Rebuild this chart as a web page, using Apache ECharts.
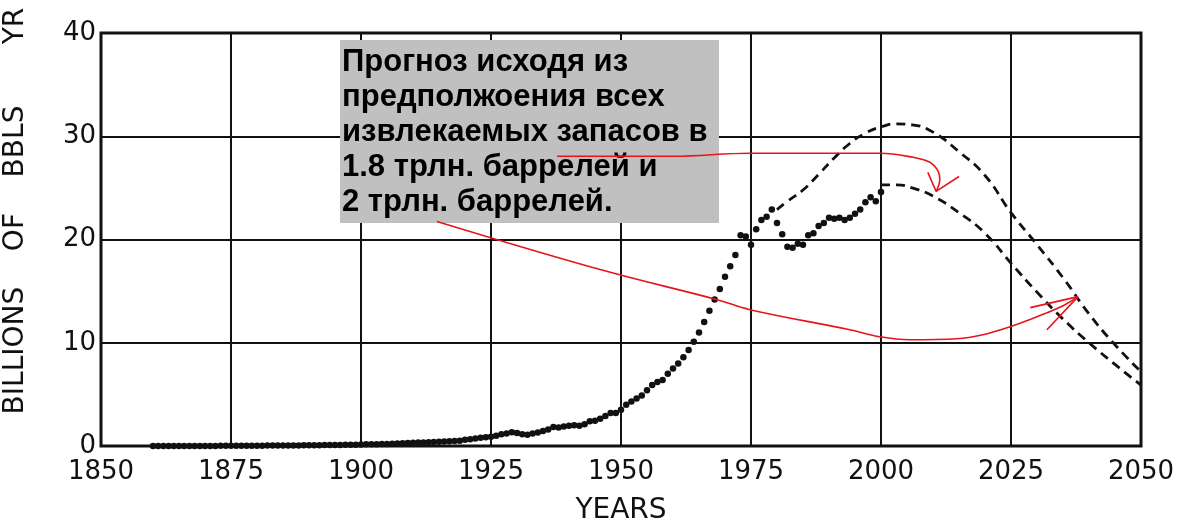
<!DOCTYPE html>
<html>
<head>
<meta charset="utf-8">
<script src="https://cdn.jsdelivr.net/npm/echarts@6/dist/echarts.min.js"></script>
<style>
  html, body { margin: 0; padding: 0; background: #fff; }
  #main { width: 1200px; height: 525px; }
</style>
</head>
<body>
<div id="main"></div>
<script>
// историческая добыча, млрд баррелей в год (по одной точке на год, с 1860)
var firstYear = 1860
var histValues = [
  0.00, 0.00, 0.00, 0.00, 0.00, 0.01, 0.01, 0.01, 0.01, 0.01,   // 1860-1869
  0.01, 0.01, 0.01, 0.02, 0.02, 0.02, 0.02, 0.02, 0.03, 0.03,   // 1870-1879
  0.03, 0.03, 0.04, 0.04, 0.04, 0.05, 0.05, 0.06, 0.06, 0.07,   // 1880-1889
  0.07, 0.08, 0.08, 0.09, 0.09, 0.10, 0.10, 0.11, 0.12, 0.13,   // 1890-1899
  0.15, 0.16, 0.17, 0.18, 0.20, 0.20, 0.21, 0.24, 0.26, 0.28,   // 1900-1909
  0.31, 0.33, 0.34, 0.36, 0.38, 0.41, 0.44, 0.47, 0.48, 0.52,   // 1910-1919
  0.60, 0.65, 0.72, 0.80, 0.85, 0.90, 1.00, 1.15, 1.20, 1.32,   // 1920-1929
  1.25, 1.15, 1.10, 1.20, 1.30, 1.45, 1.60, 1.85, 1.80, 1.90,   // 1930-1939
  1.95, 2.00, 1.95, 2.10, 2.40, 2.45, 2.65, 2.90, 3.20, 3.20,   // 1940-1949
  3.50, 4.00, 4.30, 4.60, 4.90, 5.40, 5.90, 6.20, 6.40, 7.00,   // 1950-1959
  7.50, 8.00, 8.60, 9.30, 10.1, 11.0, 12.0, 13.1, 14.2, 15.2,   // 1960-1969
  16.4, 17.4, 18.5, 20.4, 20.3, 19.5, 21.0, 21.9, 22.2, 22.9,   // 1970-1979
  21.6, 20.5, 19.3, 19.2, 19.6, 19.5, 20.4, 20.6, 21.3, 21.6,   // 1980-1989
  22.1, 22.0, 22.1, 21.9, 22.1, 22.5, 22.9, 23.6, 24.1, 23.7,   // 1990-1999
  24.6                                                          // 2000
]

// прогноз: 2 трлн баррелей (верхняя кривая)
var highYears  = [1980, 1982, 1985, 1988, 1991, 1994, 1997, 2000, 2003, 2006, 2010, 2015, 2020, 2025, 2030, 2035, 2040, 2045, 2050]
var highValues = [22.9, 23.7, 24.8, 26.3, 27.9, 29.3, 30.3, 30.9, 31.2, 31.1, 30.4, 28.5, 26.2, 22.6, 19.5, 16.3, 12.8, 9.8, 7.2]

// прогноз: 1.8 трлн баррелей (нижняя кривая)
var lowYears  = [2000, 2003, 2006, 2010, 2015, 2020, 2025, 2030, 2035, 2040, 2045, 2050]
var lowValues = [25.3, 25.3, 25.0, 24.2, 22.6, 20.6, 17.7, 14.9, 12.3, 10.0, 7.9, 5.9]

// красные стрелки от подписи (в координатах графика)
var arrowTopYears  = [1937.7, 1960, 1974.8, 1999.8, 2006.2, 2009.4, 2011.0, 2011.3, 2010.6]
var arrowTopValues = [28.06, 28.06, 28.35, 28.35, 27.96, 27.48, 26.6, 25.8, 24.66]
var arrowTopHeadYears  = [2009.0, 2010.6, 2015.0]
var arrowTopHeadValues = [26.5, 24.66, 26.1]

var arrowLowYears  = [1914.6, 1946.0, 1968.5, 1974.8, 1994.0, 1999.8, 2005.6, 2014.6, 2019.6, 2024.8, 2030.0, 2035.0, 2037.9]
var arrowLowValues = [21.75, 17.09, 14.17, 13.2, 11.26, 10.58, 10.29, 10.39, 10.78, 11.55, 12.52, 13.59, 14.47]
var arrowLowHeadYears  = [2031.9, 2037.9, 2028.7]
var arrowLowHeadValues = [11.26, 14.47, 13.4]

var xTicks = [1850, 1875, 1900, 1925, 1950, 1975, 2000, 2025, 2050]
var yTicks = [0, 10, 20, 30, 40]

var noteLines = [
  'Прогноз исходя из',
  'предполжоения всех',
  'извлекаемых запасов в',
  '1.8 трлн. баррелей и',
  '2 трлн. баррелей.'
]

function pairs(xs, ys) {
  return xs.map(function (x, i) { return [x, ys[i]] })
}

var histData = histValues.map(function (v, i) { return [firstYear + i, v] })

var labelFont = { fontFamily: 'DejaVu Sans', fontSize: 26, color: '#111' }
var redLine = { color: '#e8141c', width: 1.6 }

var myChart = echarts.init(document.getElementById('main'))

var option = {
  animation: false,
  backgroundColor: '#fff',
  grid: {
    left: 101, right: 59, top: 33, bottom: 79,
    outerBoundsMode: 'none',
    containLabel: false,
    show: true, borderColor: '#111', borderWidth: 3
  },
  xAxis: {
    type: 'value',
    min: xTicks[0], max: xTicks[xTicks.length - 1], interval: 25,
    axisLine: { show: false },
    axisTick: { show: false },
    splitLine: { lineStyle: { color: '#111', width: 2 } },
    axisLabel: Object.assign({ margin: 13, formatter: function (v) { return String(v) } }, labelFont),
    name: 'YEARS', nameLocation: 'middle', nameGap: 51,
    nameTextStyle: { fontFamily: 'DejaVu Sans', fontSize: 28, color: '#111' }
  },
  yAxis: {
    type: 'value',
    min: yTicks[0], max: yTicks[yTicks.length - 1], interval: 10,
    axisLine: { show: false },
    axisTick: { show: false },
    splitLine: { lineStyle: { color: '#111', width: 2 } },
    axisLabel: Object.assign({ margin: 5 }, labelFont)
  },
  graphic: [
    {
      type: 'text', x: 16, y: 260, rotation: Math.PI / 2, z: 1,
      style: { text: 'BILLIONS    OF    BBLS', font: '28px "DejaVu Sans"', fill: '#111', align: 'center', verticalAlign: 'middle' }
    },
    {
      type: 'text', x: 16, y: 26, rotation: Math.PI / 2, z: 1,
      style: { text: 'YR', font: '28px "DejaVu Sans"', fill: '#111', align: 'center', verticalAlign: 'middle' }
    },
    {
      type: 'rect', z: 1,
      shape: { x: 340, y: 40, width: 379, height: 183 },
      style: { fill: '#c0c0c0' }
    },
    {
      type: 'text', x: 342, y: 45, z: 2,
      style: {
        text: noteLines.join('\n'),
        font: 'bold 31px "Liberation Sans"',
        lineHeight: 35,
        fill: '#000'
      }
    }
  ],
  series: [
    {
      name: 'history', type: 'scatter', data: histData,
      symbol: 'circle', symbolSize: 6.5,
      itemStyle: { color: '#111', opacity: 1 }, z: 3
    },
    {
      name: '2 trln', type: 'line', data: pairs(highYears, highValues),
      smooth: true, showSymbol: false,
      lineStyle: { color: '#111', width: 2.8, type: [9, 6] }, z: 3
    },
    {
      name: '1.8 trln', type: 'line', data: pairs(lowYears, lowValues),
      smooth: true, showSymbol: false,
      lineStyle: { color: '#111', width: 2.8, type: [9, 6] }, z: 3
    },
    {
      type: 'line', data: pairs(arrowTopYears, arrowTopValues),
      smooth: 0.4, showSymbol: false, lineStyle: redLine, z: 10
    },
    {
      type: 'line', data: pairs(arrowTopHeadYears, arrowTopHeadValues),
      showSymbol: false, lineStyle: redLine, z: 10
    },
    {
      type: 'line', data: pairs(arrowLowYears, arrowLowValues),
      smooth: 0.4, showSymbol: false, lineStyle: redLine, z: 10
    },
    {
      type: 'line', data: pairs(arrowLowHeadYears, arrowLowHeadValues),
      showSymbol: false, lineStyle: redLine, z: 10
    }
  ]
}

myChart.setOption(option)
</script>
</body>
</html>
